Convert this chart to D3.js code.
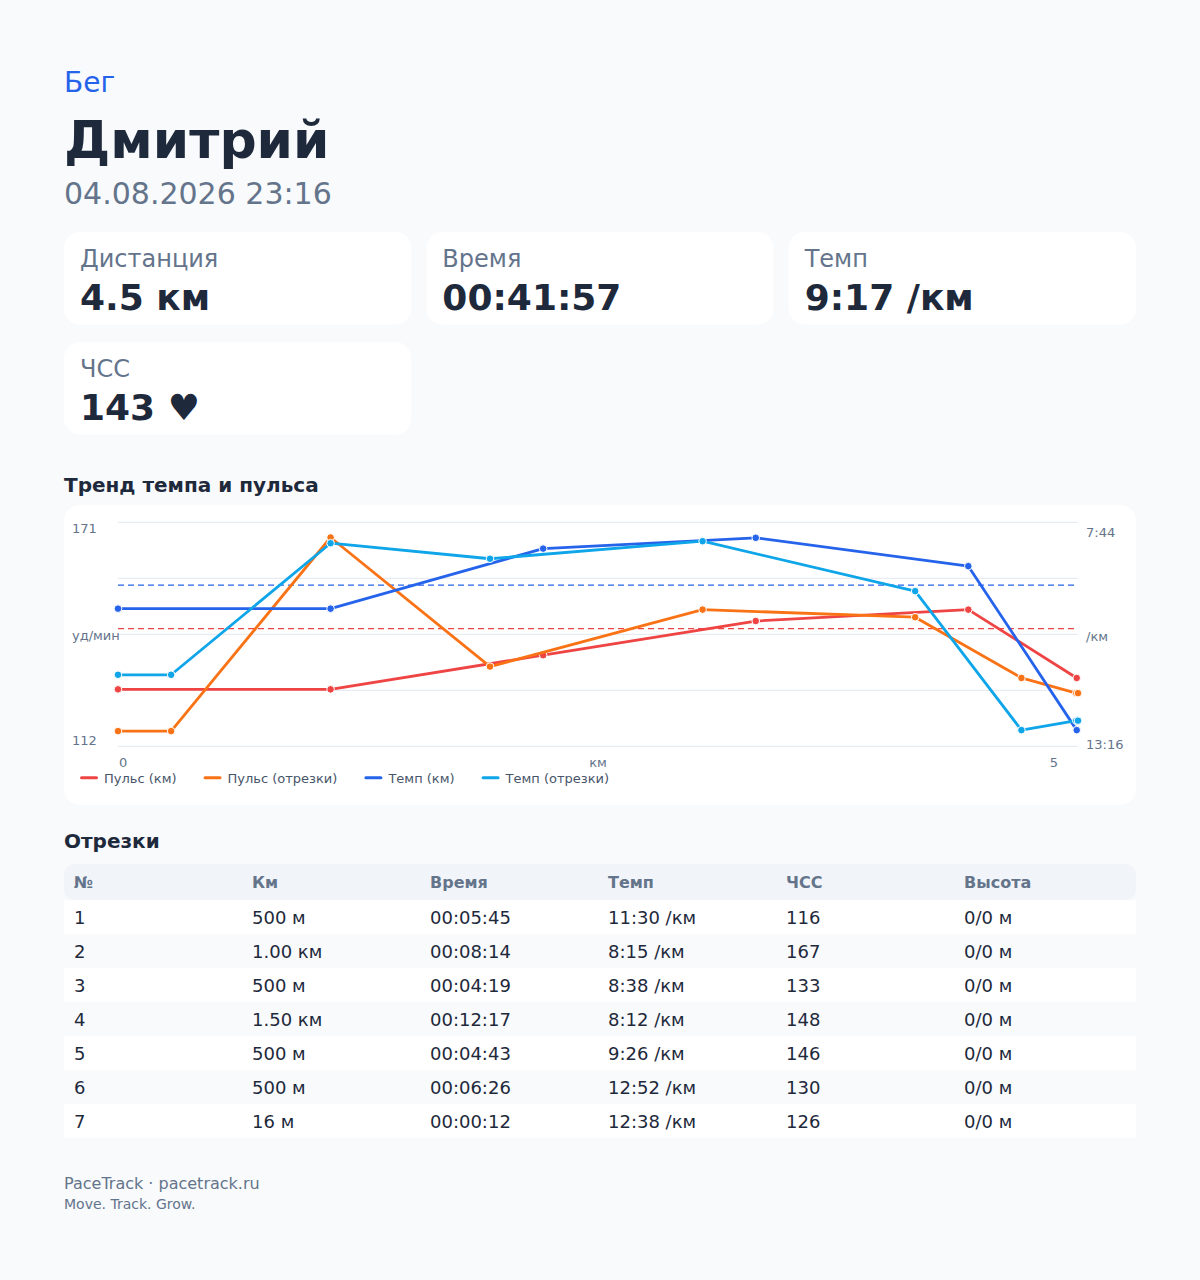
<!DOCTYPE html>
<html>
<head>
<meta charset="UTF-8">
<title>Бег — Дмитрий</title>
<script src="https://d3js.org/d3.v7.min.js"></script>
<style>
	body { margin: 0; background: #f8fafc; }
	svg text { font-family: "DejaVu Sans", sans-serif; }
</style>
</head>
<body>
<div id="page"></div>

<script>
	// header
	let sport = "Бег";
	let athlete = "Дмитрий";
	let startedAt = "04.08.2026 23:16";

	let statLabels = ["Дистанция", "Время", "Темп", "ЧСС"];
	let statValues = ["4.5 км", "00:41:57", "9:17 /км", "143 ♥"];

	// chart: x in km, pulse in bpm, pace in seconds per km
	let segX = [0, 0.25, 1.0, 1.75, 2.75, 3.75, 4.25, 4.508, 4.516];
	let segHr = [116, 116, 167, 133, 148, 146, 130, 126, 126];
	let segPace = [690, 690, 495, 518, 492, 566, 772, 758, 758];
	let kmX = [0, 1, 2, 3, 4, 4.51];
	let kmHr = [127, 127, 136, 145, 148, 130];
	let kmPace = [592, 592, 503, 487, 529, 772];
	let avgHr = 143;
	let avgPace = 557;
	let hrDomain = [112, 171];
	let paceDomain = [464, 796];
	let distMax = 4.516;
	let xTickLabels = ["0", "5"];
	let legendNames = ["Пульс (км)", "Пульс (отрезки)", "Темп (км)", "Темп (отрезки)"];

	// laps table
	let tableHead = ["№", "Км", "Время", "Темп", "ЧСС", "Высота"];
	let lapNo = ["1", "2", "3", "4", "5", "6", "7"];
	let lapDist = ["500 м", "1.00 км", "500 м", "1.50 км", "500 м", "500 м", "16 м"];
	let lapTime = ["00:05:45", "00:08:14", "00:04:19", "00:12:17", "00:04:43", "00:06:26", "00:00:12"];
	let lapPace = ["11:30 /км", "8:15 /км", "8:38 /км", "8:12 /км", "9:26 /км", "12:52 /км", "12:38 /км"];
	let lapHr = ["116", "167", "133", "148", "146", "130", "126"];
	let lapElev = ["0/0 м", "0/0 м", "0/0 м", "0/0 м", "0/0 м", "0/0 м", "0/0 м"];

	let footerBrand = "PaceTrack · pacetrack.ru";
	let footerMotto = "Move. Track. Grow.";

	let dark = "#1e293b";
	let muted = "#64748b";
	let colors = ["#ef4444", "#f97316", "#2563eb", "#0ea5e9"];

	let svg = d3.select("#page").append("svg")
		.attr("width", 1200)
		.attr("height", 1280);

	// title block
	svg.append("text").attr("x", 64).attr("y", 91.5)
		.attr("font-size", 28).attr("fill", "#2563eb").text(sport);
	svg.append("text").attr("x", 64).attr("y", 158.3)
		.attr("font-size", 52).attr("font-weight", "bold").attr("fill", dark).text(athlete);
	svg.append("text").attr("x", 64).attr("y", 204)
		.attr("font-size", 30).attr("fill", muted).text(startedAt);

	// stat cards
	let cardW = (1072 - 30) / 3;
	let cardTops = [232, 342];
	let cards = svg.selectAll(".card")
		.data(statLabels)
		.join("g")
		.attr("class", "card")
		.attr("transform", (d, i) => `translate(${64 + (i % 3) * (cardW + 15)},${cardTops[Math.floor(i / 3)]})`);
	cards.append("rect")
		.attr("width", cardW).attr("height", 92.5).attr("rx", 16)
		.attr("fill", "#fff");
	cards.append("text").attr("x", 16).attr("y", 35.3)
		.attr("font-size", 24).attr("fill", muted).text(d => d);
	cards.append("text").attr("x", 16).attr("y", 78)
		.attr("font-size", 36).attr("font-weight", "bold").attr("fill", dark)
		.text((d, i) => statValues[i]);

	// chart card
	svg.append("text").attr("x", 64).attr("y", 491.7)
		.attr("font-size", 20).attr("font-weight", "bold").attr("fill", dark)
		.text("Тренд темпа и пульса");
	svg.append("rect").attr("x", 64).attr("y", 505)
		.attr("width", 1072).attr("height", 300).attr("rx", 16)
		.attr("fill", "#fff");

	let plot = { left: 118, right: 1078, top: 522.3, bottom: 746.3 };

	let x = d3.scaleLinear().domain([0, distMax]).range([plot.left, plot.right]);
	let yHr = d3.scaleLinear().domain(hrDomain).range([plot.bottom, plot.top]);
	let yPace = d3.scaleLinear().domain(paceDomain).range([plot.top, plot.bottom]);

	function fmtPace(s) {
		return Math.floor(s / 60) + ":" + String(Math.round(s % 60)).padStart(2, "0");
	}

	// gridlines
	let gridVals = d3.range(5).map(i => hrDomain[0] + i * (hrDomain[1] - hrDomain[0]) / 4);
	svg.selectAll(".grid")
		.data(gridVals)
		.join("line")
		.attr("class", "grid")
		.attr("x1", plot.left).attr("x2", plot.right)
		.attr("y1", d => yHr(d)).attr("y2", d => yHr(d))
		.attr("stroke", "#e2e8f0").attr("stroke-width", 1);

	// axis labels
	let axisText = svg.append("g")
		.attr("font-size", 13).attr("fill", muted);
	axisText.append("text").attr("x", 72).attr("y", yHr(hrDomain[1]) + 10.7).text(hrDomain[1]);
	axisText.append("text").attr("x", 72).attr("y", yHr(hrDomain[0]) - 1.3).text(hrDomain[0]);
	axisText.append("text").attr("x", 72).attr("y", yHr(d3.mean(hrDomain)) + 5.5).text("уд/мин");
	axisText.append("text").attr("x", 1086).attr("y", yPace(paceDomain[0]) + 14.7).text(fmtPace(paceDomain[0]));
	axisText.append("text").attr("x", 1086).attr("y", yPace(paceDomain[1]) + 2.7).text(fmtPace(paceDomain[1]));
	axisText.append("text").attr("x", 1086).attr("y", yPace(d3.mean(paceDomain)) + 6.7).text("/км");
	axisText.append("text").attr("x", x(0) + 1).attr("y", 767).text(xTickLabels[0]);
	axisText.append("text").attr("x", x(distMax) - 20).attr("y", 767)
		.attr("text-anchor", "end").text(xTickLabels[1]);
	axisText.append("text").attr("x", x(distMax / 2)).attr("y", 767)
		.attr("text-anchor", "middle").text("км");

	// average lines
	svg.append("line")
		.attr("x1", plot.left).attr("x2", plot.right)
		.attr("y1", yPace(avgPace)).attr("y2", yPace(avgPace))
		.attr("stroke", colors[2]).attr("stroke-width", 1.2).attr("stroke-dasharray", "6 4");
	svg.append("line")
		.attr("x1", plot.left).attr("x2", plot.right)
		.attr("y1", yHr(avgHr)).attr("y2", yHr(avgHr))
		.attr("stroke", colors[0]).attr("stroke-width", 1.2).attr("stroke-dasharray", "6 4");

	// series
	let series = [
		{ xs: kmX, ys: kmHr, y: yHr },
		{ xs: segX, ys: segHr, y: yHr },
		{ xs: kmX, ys: kmPace, y: yPace },
		{ xs: segX, ys: segPace, y: yPace }
	];

	series.forEach((s, i) => {
		let pts = s.xs.map((v, j) => [x(v), s.y(s.ys[j])]);
		svg.append("path")
			.attr("d", d3.line()(pts))
			.attr("fill", "none")
			.attr("stroke", colors[i])
			.attr("stroke-width", 2.8)
			.attr("stroke-linejoin", "round");
		svg.append("g").selectAll("circle")
			.data(pts)
			.join("circle")
			.attr("cx", d => d[0]).attr("cy", d => d[1])
			.attr("r", 3.8)
			.attr("fill", colors[i])
			.attr("stroke", "#fff").attr("stroke-width", 1);
	});

	// legend
	let lx = 80;
	let legend = svg.append("g");
	legendNames.forEach((name, i) => {
		legend.append("rect")
			.attr("x", lx).attr("y", 776.3)
			.attr("width", 18).attr("height", 3).attr("rx", 1.5)
			.attr("fill", colors[i]);
		let t = legend.append("text")
			.attr("x", lx + 24).attr("y", 782.8)
			.attr("font-size", 13).attr("fill", "#475569")
			.text(name);
		lx += 24 + t.node().getComputedTextLength() + 27;
	});

	// laps table
	svg.append("text").attr("x", 64).attr("y", 847.7)
		.attr("font-size", 20).attr("font-weight", "bold").attr("fill", dark)
		.text("Отрезки");

	let colW = 178;
	svg.append("rect").attr("x", 64).attr("y", 864)
		.attr("width", 1072).attr("height", 36).attr("rx", 10)
		.attr("fill", "#f1f5f9");
	svg.selectAll(".th")
		.data(tableHead)
		.join("text")
		.attr("class", "th")
		.attr("x", (d, i) => 74 + i * colW)
		.attr("y", 888.3)
		.attr("font-size", 16).attr("font-weight", "bold").attr("fill", muted)
		.text(d => d);

	let rows = lapNo.map((n, i) => [n, lapDist[i], lapTime[i], lapPace[i], lapHr[i], lapElev[i]]);
	let rowG = svg.selectAll(".row")
		.data(rows)
		.join("g")
		.attr("class", "row")
		.attr("transform", (d, i) => `translate(64,${900 + i * 34})`);
	rowG.append("rect")
		.attr("width", 1072).attr("height", 34)
		.attr("fill", (d, i) => i % 2 === 0 ? "#fff" : "#f8fafc");
	rowG.selectAll("text")
		.data(d => d)
		.join("text")
		.attr("x", (d, i) => 10 + i * colW)
		.attr("y", 24.3)
		.attr("font-size", 18).attr("fill", dark)
		.text(d => d);

	// footer
	svg.append("text").attr("x", 64).attr("y", 1189.3)
		.attr("font-size", 16).attr("fill", muted).text(footerBrand);
	svg.append("text").attr("x", 64).attr("y", 1209.3)
		.attr("font-size", 14).attr("fill", muted).text(footerMotto);
</script>
</body>
</html>
